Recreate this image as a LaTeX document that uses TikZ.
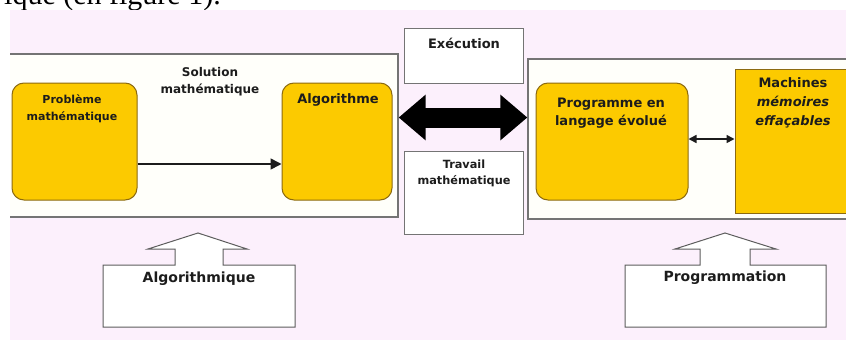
\documentclass[tikz,border=0pt]{standalone}
\usepackage{fontspec}
\setmainfont{DejaVu Sans}
\newfontfamily\bodyserif{Liberation Serif}
\usetikzlibrary{arrows.meta}

\definecolor{bgpink}{HTML}{FCF0FC}
\definecolor{gold}{HTML}{FCCA00}
\definecolor{goldedge}{HTML}{8C6A10}
\definecolor{frame}{HTML}{747474}
\definecolor{paper}{HTML}{FFFFFA}
\definecolor{ink}{HTML}{1C1C1C}

\tikzset{
  panel/.style={draw=frame, line width=1.3pt, fill=paper, inner sep=0pt},
  goldbox/.style={draw=goldedge, line width=1pt, fill=gold, rounded corners=12pt, inner sep=0pt},
  goldsquare/.style={draw=goldedge, line width=1pt, fill=gold, inner sep=0pt},
  labelbox/.style={draw=frame, line width=1pt, fill=white, inner sep=0pt},
  callout/.style={draw=frame!80!black, line width=1pt, fill=white, line join=miter},
  txt/.style={text=ink, align=center, inner sep=0pt, font=\bfseries\fontsize{#1}{#1}\selectfont},
  txt/.default=12,
  thin link/.style={draw=ink, line width=1.6pt, -{Triangle[length=11pt,width=11pt]}},
  pair link/.style={draw=ink, line width=1.6pt, {Triangle[length=8pt,width=8pt]}-{Triangle[length=8pt,width=8pt]}},
  big link/.style={draw=black, line width=20pt, {Triangle[length=27pt,width=44pt]}-{Triangle[length=27pt,width=44pt]}},
}

\begin{document}
\begin{tikzpicture}[x=1pt, y=-1pt]
  \useasboundingbox (0,0) rectangle (846,340);
  \clip (0,0) rectangle (846,340);

  % running text of the page above the figure
  \node[anchor=base west, inner sep=0pt, text=black, font=\bodyserif\fontsize{30}{30}\selectfont]
    (intro) at (4,5) {ique (en figure 1).};

  % figure background
  \fill[bgpink] (10,10) rectangle (846,340);

  \begin{scope}
    \clip (10,10) rectangle (846,340);

    % left panel: mathematical work
    \node[panel, minimum width=393pt, minimum height=163pt] (leftpanel) at (201.5,135.5) {};
    \node[goldbox, minimum width=125pt, minimum height=117pt] (prob) at (74.5,141.5) {};
    \node[goldbox, minimum width=110pt, minimum height=117pt] (algo) at (337,141.5) {};

    % middle label boxes
    \node[labelbox, minimum width=119pt, minimum height=55pt] (execbox) at (463.5,55.5) {};
    \node[labelbox, minimum width=119pt, minimum height=83pt] (travbox) at (463.5,192.5) {};

    % right panel: programming
    \node[panel, minimum width=332pt, minimum height=160pt] (rightpanel) at (694,139) {};
    \node[goldbox, minimum width=152pt, minimum height=117pt] (prog) at (612,141.5) {};
    \node[goldsquare, minimum width=125pt, minimum height=144pt] (mach) at (797.5,141) {};

    % connectors
    \coordinate (lvl) at (0,164);
    \draw[thin link] (prob.east |- lvl) -- (algo.west |- lvl);
    \coordinate (pairlvl) at (0,139);
    \draw[pair link] (prog.east |- pairlvl) -- (mach.west |- pairlvl);
    \coordinate (biglvl) at (0,117.5);
    \draw[big link] (leftpanel.east |- biglvl) -- (rightpanel.west |- biglvl);

    % callouts pointing up to the panels
    \coordinate (algtip) at (198,233);
    \draw[callout] (103,327) -- (103,265) -- (175,265) -- (175,249) -- (148,249)
      -- (algtip) -- (247,249) -- (223,249) -- (223,265) -- (295,265) -- (295,327) -- cycle;
    \coordinate (progtip) at (725,233);
    \draw[callout] (625,327) -- (625,265) -- (700,265) -- (700,249) -- (675,249)
      -- (progtip) -- (776,249) -- (750,249) -- (750,265) -- (826,265) -- (826,327) -- cycle;

    % texts
    \node[txt=12, align=center, font=\bfseries\fontsize{12}{16.5}\selectfont] (soltxt) at (210,81.5) {Solution\\math\'ematique};
    \node[txt=11, font=\bfseries\fontsize{11}{17}\selectfont] (probtxt) at (72,108.5) {Probl\`eme\\math\'ematique};
    \node[txt=13] (algotxt) at (338,100) {Algorithme};
    \node[txt=13] (exectxt) at (464,43) {Ex\'ecution};
    \node[txt=11, font=\bfseries\fontsize{11.3}{16}\selectfont] (travtxt) at (464,173) {Travail\\math\'ematique};
    \node[txt=13, font=\bfseries\fontsize{13}{18.5}\selectfont] (progtxt) at (611,113) {Programme en\\langage \'evolu\'e};
    \node[txt=13, font=\bfseries\fontsize{13}{19}\selectfont] (machtxt) at (793,103)
      {Machines\\\textit{m\'emoires}\\\textit{effa\c{c}ables}};
    \node[txt=14] (algotitle) at (199,279) {Algorithmique};
    \node[txt=14] (progtitle) at (725,278) {Programmation};
  \end{scope}
\end{tikzpicture}
\end{document}
